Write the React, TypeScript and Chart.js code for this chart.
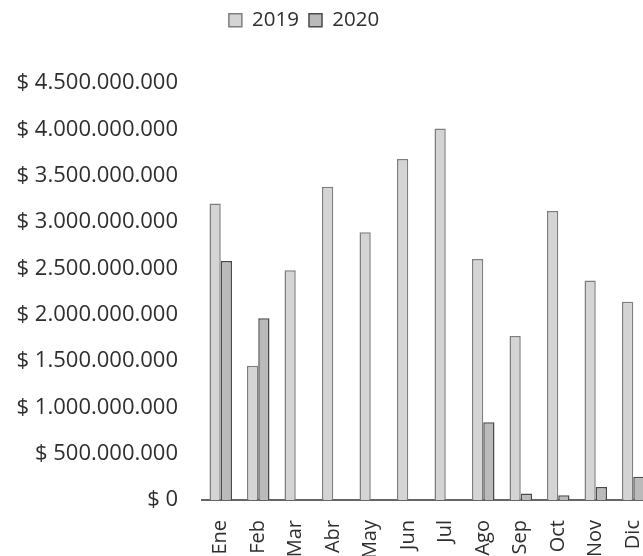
import React, { useEffect, useRef } from "react";
import { Chart, registerables } from "chart.js";

Chart.register(...registerables);

const months = ["Ene", "Feb", "Mar", "Abr", "May", "Jun", "Jul", "Ago", "Sep", "Oct", "Nov", "Dic"];
const values2019 = [3200000000, 1450000000, 2480000000, 3380000000, 2890000000, 3680000000, 4010000000, 2600000000, 1770000000, 3120000000, 2370000000, 2140000000];
const values2020 = [2580000000, 1960000000, 0, 0, 0, 0, 0, 840000000, 70000000, 50000000, 140000000, 250000000];
const seriesLabels = ["2019", "2020"];
const yMax = 4500000000;
const yStep = 500000000;

function fmt(v: number): string {
  const s = Math.round(v).toString().replace(/\B(?=(\d{3})+(?!\d))/g, ".");
  return "$ " + s;
}

const FONT = "'Open Sans', 'Noto Sans', sans-serif";
const TEXT = "#2e2e2e";

export default function App() {
  const ref = useRef<HTMLCanvasElement | null>(null);
  useEffect(() => {
    if (!ref.current) return;
    const legendTweak = {
      id: "legendTweak",
      beforeInit(chart: any) {
        const lg = chart.legend;
        const origFit = lg.fit;
        lg.fit = function () {
          origFit.call(lg);
          lg.height = 83;
        };
        const origDraw = lg.draw;
        lg.draw = function () {
          const ctx = chart.ctx;
          ctx.save();
          ctx.translate(-22, 0);
          origDraw.call(lg);
          ctx.restore();
        };
      },
    };
    const chart = new Chart(ref.current, {
      type: "bar",
      data: {
        labels: months,
        datasets: [
          {
            label: seriesLabels[0],
            data: values2019,
            backgroundColor: "#d4d4d4",
            borderColor: "#7e7e7e",
            borderWidth: 1.5,
          },
          {
            label: seriesLabels[1],
            data: values2020,
            backgroundColor: "#bababa",
            borderColor: "#4a4a4a",
            borderWidth: 1.5,
          },
        ],
      },
      options: {
        responsive: false,
        animation: false,
        layout: { padding: { left: 0, right: 18, top: 0, bottom: 0 } },
        datasets: { bar: { categoryPercentage: 0.6, barPercentage: 1 } },
        plugins: {
          legend: {
            position: "top",
            labels: {
              font: { family: FONT, size: 20.5 },
              color: TEXT,
              boxWidth: 13,
              boxHeight: 13,
              padding: 10,
            },
          },
          tooltip: { enabled: false },
        },
        scales: {
          x: {
            grid: { display: false },
            border: { display: true, color: "#666666", width: 2 },
            ticks: {
              font: { family: FONT, size: 20 },
              color: TEXT,
              minRotation: 90,
              maxRotation: 90,
              padding: 12,
              autoSkip: false,
            },
            afterFit(s: any) {
              s.height = 80;
            },
          },
          y: {
            min: 0,
            max: yMax,
            grid: { display: false },
            border: { display: false },
            ticks: {
              stepSize: yStep,
              font: { family: FONT, size: 22 },
              color: TEXT,
              padding: 16,
              callback: (v: any) => fmt(Number(v)),
            },
            afterFit(s: any) {
              s.width = 202;
            },
          },
        },
      },
      plugins: [legendTweak],
    });
    return () => chart.destroy();
  }, []);
  return (
    <div
      style={{
        position: "fixed",
        left: 0,
        top: 0,
        width: 643,
        height: 556,
        overflow: "hidden",
        background: "#fff",
      }}
    >
      <canvas ref={ref} width={670} height={580} style={{ display: "block" }} />
    </div>
  );
}
